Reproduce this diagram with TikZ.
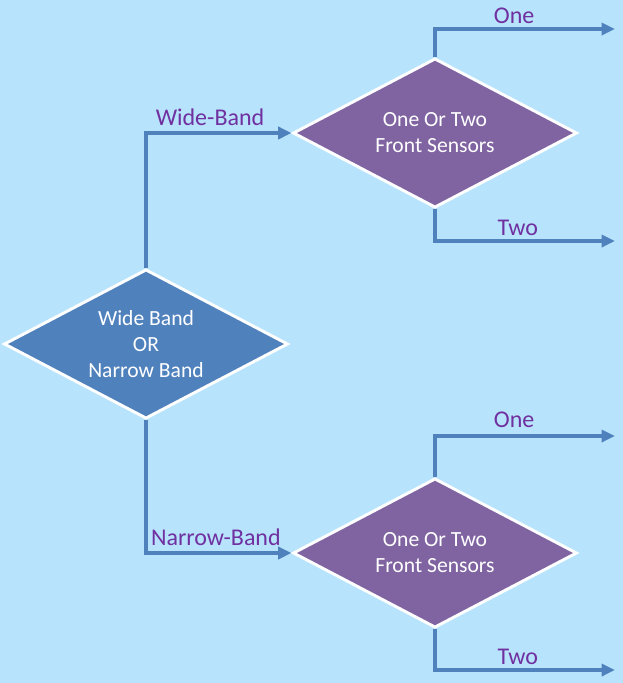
\documentclass[tikz,border=0pt]{standalone}
\usepackage{fontspec}
\setmainfont{Carlito}
\usepackage{tikz}
\usetikzlibrary{arrows.meta,positioning,shapes.geometric,calc}
\definecolor{fondbleu}{RGB}{183,228,252}
\definecolor{bleuband}{RGB}{79,129,189}
\definecolor{violetcap}{RGB}{128,100,162}
\definecolor{textviolet}{RGB}{112,48,160}
\tikzstyle{choix} = [diamond, aspect=1.9, draw=white, line width=2.2pt,
fill=bleuband, text=white, align=center, inner sep=0pt, minimum width=213pt,
minimum height=112pt, font=\fontsize{16.2}{19.5}\selectfont]
\tikzstyle{choixDeux} = [choix, fill=violetcap]
\tikzstyle{texto} = [above, text=textviolet, inner sep=4.5pt,
font=\fontsize{18}{21}\selectfont]
\tikzstyle{line} = [draw, line width=2.6pt, color=bleuband,
-{Triangle[length=10pt,width=9pt]}]
\newcommand{\choix}[2]{node (d#1)[choix]{#2}}
\newcommand{\choixDeux}[2]{node (d#1)[choixDeux]{#2}}

\begin{document}
\begin{tikzpicture}[x=0.75pt,y=-0.75pt]

		% Background
		\fill[fondbleu] (0,0) rectangle (623,683);
		\useasboundingbox (0,0) rectangle (623,683);

		% Draw diagram elements
		\path (146,344) \choix{1}{Wide Band\\OR\\Narrow Band};
		\path (d1.center)+(289,-211) \choixDeux{2}{One Or Two\\Front Sensors};
		\path (d1.center)+(289,209) \choixDeux{3}{One Or Two\\Front Sensors};

		% Free ends of the outputs
		\coordinate (e1) at (615,29);
		\coordinate (e2) at (615,241);
		\coordinate (e3) at (615,436);
		\coordinate (e4) at (615,670);

		% Draw arrows between elements
		\path [line] (d1.north) |- node [texto,pos=0.72]{Wide-Band} (d2.west);
		\path [line] (d1.south) |- node [texto,pos=0.74]{Narrow-Band} (d3.west);
		\path [line] (d2.north) |- node [texto,pos=0.72,inner sep=3pt]{One} (e1);
		\path [line] (d2.south) |- node [texto,pos=0.73,inner sep=3pt]{Two} (e2);
		\path [line] (d3.north) |- node [texto,pos=0.72,inner sep=5pt]{One} (e3);
		\path [line] (d3.south) |- node [texto,pos=0.73,inner sep=3pt]{Two} (e4);

\end{tikzpicture}
\end{document}
